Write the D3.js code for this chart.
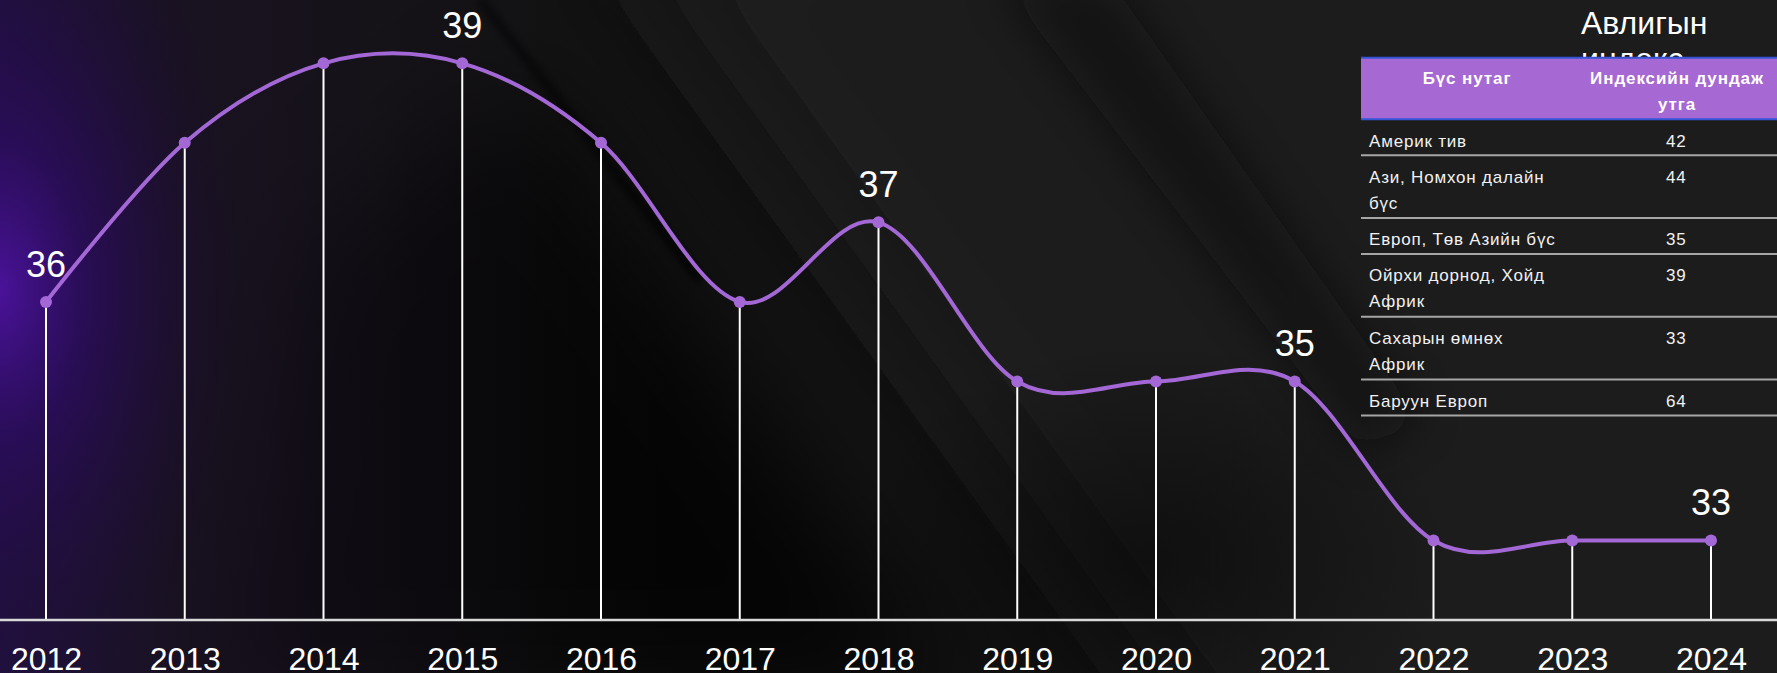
<!DOCTYPE html>
<html>
<head>
<meta charset="utf-8">
<script src="https://cdn.jsdelivr.net/npm/d3@7"></script>
<style>
  html, body { margin: 0; padding: 0; background: #101010; overflow: hidden; }
  svg { display: block; font-family: "Liberation Sans", Arial, sans-serif; }
</style>
</head>
<body>
<svg id="chart" width="1777" height="673"></svg>
<script>
// ---- data ----
const years = ["2012","2013","2014","2015","2016","2017","2018","2019","2020","2021","2022","2023","2024"];
const values = [36, 38, 39, 39, 38, 36, 37, 35, 35, 35, 33, 33, 33];
const labeledYears = ["2012","2015","2018","2021","2024"];
const titleLines = ["Авлигын", "индекс"];
const tableHeaders = ["Бүс нутаг", "Индексийн дундаж утга"];
const regions = ["Америк тив", "Ази, Номхон далайн бүс", "Европ, Төв Азийн бүс", "Ойрхи дорнод, Хойд Африк", "Сахарын өмнөх Африк", "Баруун Европ"];
const regionValues = [42, 44, 35, 39, 33, 64];

const W = 1777, H = 673;
const svg = d3.select("#chart");
const defs = svg.append("defs");

// ---- background ----
const rg = defs.append("radialGradient").attr("id","purpleGlow")
  .attr("gradientUnits","userSpaceOnUse").attr("cx",0).attr("cy",290).attr("r",330)
  .attr("gradientTransform","translate(0,290) scale(0.75,1.3) translate(0,-290)");
rg.append("stop").attr("offset","0%").attr("stop-color","#4a129a").attr("stop-opacity",1);
rg.append("stop").attr("offset","35%").attr("stop-color","#2c0c60").attr("stop-opacity",0.75);
rg.append("stop").attr("offset","100%").attr("stop-color","#1a0b2a").attr("stop-opacity",0);

const lg = defs.append("linearGradient").attr("id","leftTint").attr("x1",0).attr("x2",1).attr("y1",0).attr("y2",0);
lg.append("stop").attr("offset","0%").attr("stop-color","#24104a").attr("stop-opacity",0.8);
lg.append("stop").attr("offset","10%").attr("stop-color","#1c1228").attr("stop-opacity",0.7);
lg.append("stop").attr("offset","25%").attr("stop-color","#17121c").attr("stop-opacity",0.4);
lg.append("stop").attr("offset","38%").attr("stop-color","#111").attr("stop-opacity",0);

const darkSpot = defs.append("radialGradient").attr("id","darkSpot");
darkSpot.append("stop").attr("offset","0%").attr("stop-color","#060606").attr("stop-opacity",0.6);
darkSpot.append("stop").attr("offset","100%").attr("stop-color","#060606").attr("stop-opacity",0);

function mkBlur(id, sd) {
  const f = defs.append("filter").attr("id", id).attr("filterUnits","userSpaceOnUse")
    .attr("x",-300).attr("y",-300).attr("width",W+600).attr("height",H+600);
  f.append("feGaussianBlur").attr("stdDeviation", sd);
}
mkBlur("blurBig", 55); mkBlur("blurMid", 22); mkBlur("blurSmall", 4);

const bg = svg.append("g").attr("class","background");
bg.append("rect").attr("width",W).attr("height",H).attr("fill","#131313");
// lighter upper-right sweep
bg.append("polygon").attr("points","600,-100 1900,-100 1900,800 1250,800").attr("fill","#1b1b1b").attr("filter","url(#blurBig)");
// darker lower-middle wedge
bg.append("polygon").attr("points","300,250 520,80 960,700 200,700").attr("fill","#050505").attr("opacity",0.75).attr("filter","url(#blurBig)");
bg.append("ellipse").attr("cx",1150).attr("cy",560).attr("rx",300).attr("ry",220).attr("fill","url(#darkSpot)");
bg.append("polygon").attr("points","1000,-20 1110,-20 1420,420 1360,450").attr("fill","#0b0b0b").attr("opacity",0.55).attr("filter","url(#blurMid)");
// sharp dark streak
bg.append("line").attr("x1",480).attr("y1",0).attr("x2",700).attr("y2",280).attr("stroke","#060606").attr("stroke-width",7).attr("filter","url(#blurSmall)");
// left purple tint
bg.append("rect").attr("width",W).attr("height",H).attr("fill","url(#leftTint)");
bg.append("rect").attr("width",W).attr("height",H).attr("fill","url(#purpleGlow)");

// ---- scales ----
const x = d3.scalePoint().domain(years).range([46, 1711]);
const y = d3.scaleLinear().domain([32, 39]).range([620, 63.3]);
const data = years.map((yr, i) => ({ year: yr, value: values[i] }));

// ---- drop lines ----
svg.append("g").selectAll("line").data(data).join("line")
  .attr("x1", d => x(d.year)).attr("x2", d => x(d.year))
  .attr("y1", d => y(d.value)).attr("y2", y(32))
  .attr("stroke", "#ffffff").attr("stroke-width", 2);

// ---- axis ----
const axis = svg.append("g").attr("transform", `translate(0,${y(32)})`)
  .call(d3.axisBottom(x).tickSize(0).tickPadding(0));
axis.select(".domain").remove();
axis.append("line").attr("x1",0).attr("x2",W).attr("y1",0).attr("y2",0)
  .attr("stroke","#d9d9d9").attr("stroke-width",2.5);
axis.selectAll(".tick text")
  .attr("y", 50).attr("dy", 0)
  .attr("fill", "#ffffff").attr("font-size", 32)
  .attr("font-family", "'Liberation Sans', Arial, sans-serif");

// ---- line ----
const lineGen = d3.line().x(d => x(d.year)).y(d => y(d.value)).curve(d3.curveCardinal.tension(0));
svg.append("path").datum(data).attr("d", lineGen)
  .attr("fill","none").attr("stroke","#a468d6").attr("stroke-width",4).attr("stroke-linecap","round");

svg.append("g").selectAll("circle").data(data).join("circle")
  .attr("cx", d => x(d.year)).attr("cy", d => y(d.value)).attr("r", 6)
  .attr("fill", "#a468d6");

// ---- value labels ----
svg.append("g").selectAll("text").data(data.filter(d => labeledYears.includes(d.year))).join("text")
  .attr("x", d => x(d.year)).attr("y", d => y(d.value) - 25)
  .attr("text-anchor","middle").attr("fill","#ffffff").attr("font-size",36)
  .text(d => d.value);

// ---- title (partially hidden by table) ----
svg.append("g").selectAll("text").data(titleLines).join("text")
  .attr("x", 1581).attr("y", (d,i) => 34 + i*36)
  .attr("fill","#ffffff").attr("font-size",32).text(d => d);

// ---- table ----
const tbl = svg.append("g").attr("class","table");
const tX0 = 1361, tX1 = W, valX = 1666;
const headTop = 57.7, headBot = 119.3;
const fs = 17, ls = 0.8;
tbl.append("rect").attr("x",tX0).attr("y",headTop).attr("width",tX1-tX0).attr("height",headBot-headTop).attr("fill","#a668d2");
tbl.append("line").attr("x1",tX0).attr("x2",tX1).attr("y1",headTop).attr("y2",headTop).attr("stroke","#3355d6").attr("stroke-width",2);
tbl.append("line").attr("x1",tX0).attr("x2",tX1).attr("y1",headBot).attr("y2",headBot).attr("stroke","#3355d6").attr("stroke-width",2);

tbl.append("text").attr("x",1467).attr("y",84).attr("text-anchor","middle")
  .attr("fill","#fff").attr("font-weight","bold").attr("font-size",17).attr("letter-spacing",0.9)
  .text(tableHeaders[0]);
const h2 = tbl.append("text").attr("text-anchor","middle").attr("fill","#fff")
  .attr("font-weight","bold").attr("font-size",17).attr("letter-spacing",0.9);
const h2words = tableHeaders[1].split(" ");
h2.append("tspan").attr("x",1677).attr("y",84).text(h2words.slice(0,2).join(" "));
h2.append("tspan").attr("x",1677).attr("y",110).text(h2words.slice(2).join(" "));

// wrap helper
function wrapLines(str, maxW) {
  const tmp = svg.append("text").attr("font-size", fs).attr("letter-spacing", ls).attr("visibility","hidden");
  const words = str.split(" ");
  const lines = [];
  let cur = "";
  for (const w of words) {
    const test = cur ? cur + " " + w : w;
    tmp.text(test);
    if (tmp.node().getComputedTextLength() > maxW && cur) { lines.push(cur); cur = w; }
    else cur = test;
  }
  if (cur) lines.push(cur);
  tmp.remove();
  return lines;
}

let rowTop = headBot;
regions.forEach((r, i) => {
  const lines = wrapLines(r, 194);
  const rowH = 36 + 26.7 * (lines.length - 1);
  const t = tbl.append("text").attr("fill","#f2f2f2").attr("font-size",fs).attr("letter-spacing",ls);
  lines.forEach((ln, j) => {
    t.append("tspan").attr("x", 1369).attr("y", rowTop + 27.4 + j * 26).text(ln);
  });
  tbl.append("text").attr("x", valX).attr("y", rowTop + 27.4).attr("fill","#f2f2f2")
    .attr("font-size",fs).attr("letter-spacing",ls).text(regionValues[i]);
  rowTop += rowH;
  tbl.append("line").attr("x1",tX0).attr("x2",tX1).attr("y1",rowTop).attr("y2",rowTop)
    .attr("stroke","#a6a6a6").attr("stroke-width",2);
});
</script>
</body>
</html>
